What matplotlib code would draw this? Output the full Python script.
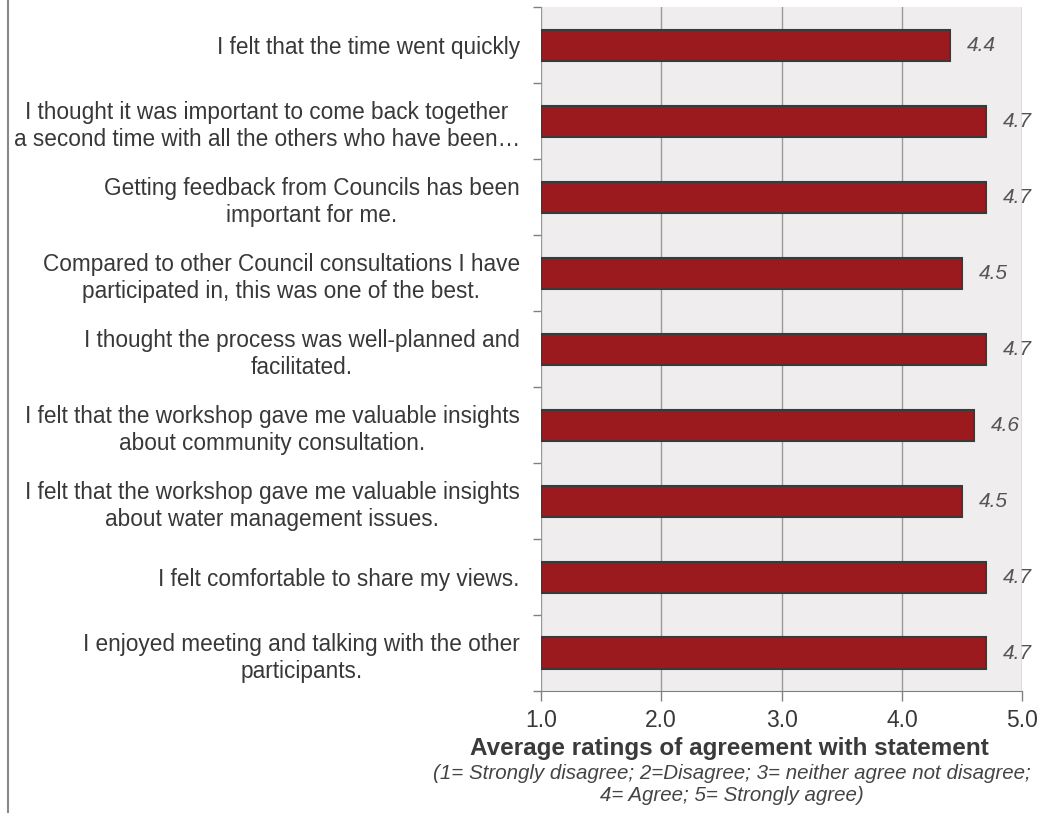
import matplotlib
matplotlib.use("Agg")
import matplotlib.pyplot as plt
import numpy as np
from matplotlib.lines import Line2D

plt.rcParams['font.family'] = ['Liberation Sans', 'DejaVu Sans']

# statements, top to bottom, and their average ratings
statements = [
    "I felt that the time went quickly",
    "I thought it was important to come back together\na second time with all the others who have been\u2026",
    "Getting feedback from Councils has been\nimportant for me.",
    "Compared to other Council consultations I have\nparticipated in, this was one of the best.",
    "I thought the process was well-planned and\nfacilitated.",
    "I felt that the workshop gave me valuable insights\nabout community consultation.",
    "I felt that the workshop gave me valuable insights\nabout water management issues.",
    "I felt comfortable to share my views.",
    "I enjoyed meeting and talking with the other\nparticipants.",
]
ratings = [4.4, 4.7, 4.7, 4.5, 4.7, 4.6, 4.5, 4.7, 4.7]
x_ticks = [1.0, 2.0, 3.0, 4.0, 5.0]

text_col = "#383838"
fig = plt.figure(figsize=(10.54, 8.13), dpi=100)
ax = fig.add_axes([0.513, 0.150, 0.457, 0.841])
ax.set_facecolor("#efedee")

ypos = np.arange(len(statements))
ax.barh(ypos, [r - 1.0 for r in ratings], left=1.0, height=0.41,
        color="#9b1a1e", edgecolor="#3a3a3a", linewidth=1.5, zorder=3)

for y, r in zip(ypos, ratings):
    ax.annotate("%.1f" % r, (r, y), xytext=(12, 0), textcoords="offset points",
                ha="left", va="center", fontsize=15, style="italic",
                color="#555555", zorder=4)

ax.set_xlim(1.0, 5.0)
ax.set_ylim(len(statements) - 0.5, -0.5)
ax.set_xticks(x_ticks)
ax.set_xticklabels(["%.1f" % t for t in x_ticks], fontsize=16.5, color=text_col)
ax.xaxis.grid(True, color="#9a9a9a", linewidth=1.0, zorder=0)
ax.set_axisbelow(True)

ax.set_yticks(ypos)
ax.set_yticklabels(statements, fontsize=16.3, color=text_col,
                   multialignment="center", linespacing=1.22)
ax.set_yticks(np.arange(len(statements) + 1) - 0.5, minor=True)
ax.tick_params(axis="y", which="major", length=0, pad=15)
ax.tick_params(axis="y", which="minor", length=6, color="#808080", width=1)
ax.tick_params(axis="x", length=7, color="#808080", width=1, pad=6)

for side in ["top", "left", "right"]:
    ax.spines[side].set_visible(False)
ax.spines["bottom"].set_color("#808080")

fig.text(0.692, 0.079, "Average ratings of agreement with statement",
         ha="center", va="center", fontsize=17.5, fontweight="bold", color="#3a3a3a")
fig.text(0.694, 0.035,
         "(1= Strongly disagree; 2=Disagree; 3= neither agree not disagree;\n4= Agree; 5= Strongly agree)",
         ha="center", va="center", fontsize=14.8, style="italic", color="#444444",
         linespacing=1.15)

# thin frame line along the left edge
fig.add_artist(Line2D([0.0077, 0.0077], [0, 1], transform=fig.transFigure,
                      color="#888888", linewidth=1.5))

fig.savefig("out.png", dpi=100, facecolor="white")
